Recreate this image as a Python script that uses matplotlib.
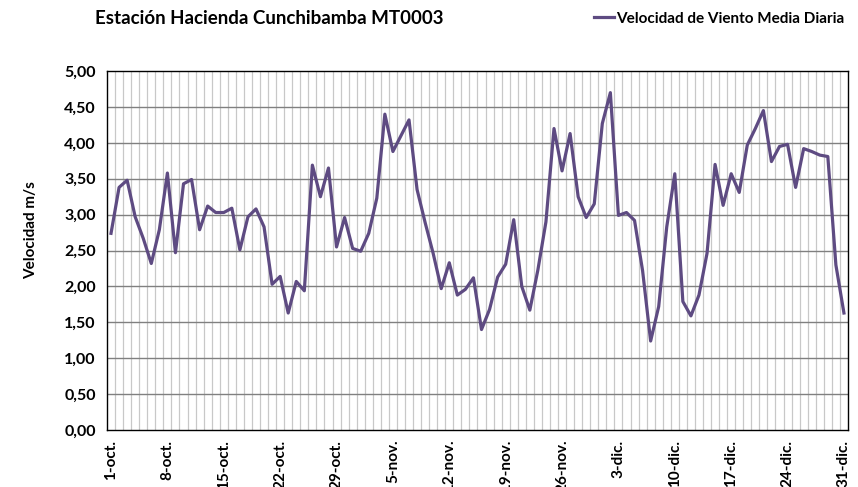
import matplotlib.pyplot as plt
import numpy as np

plt.rcParams['font.family'] = ['Lato', 'DejaVu Sans']

# velocidad media diaria, 1-oct a 31-dic
velocidad = np.array([
    2.74, 3.38, 3.48, 2.97, 2.67, 2.32, 2.79, 3.58, 2.47, 3.43,
    3.49, 2.79, 3.12, 3.03, 3.03, 3.09, 2.51, 2.97, 3.08, 2.83,
    2.03, 2.14, 1.63, 2.07, 1.94, 3.69, 3.25, 3.65, 2.55, 2.96,
    2.53, 2.49, 2.74, 3.23, 4.40, 3.88, 4.10, 4.32, 3.35, 2.89,
    2.46, 1.97, 2.33, 1.88, 1.96, 2.12, 1.40, 1.68, 2.13, 2.31,
    2.93, 2.00, 1.67, 2.23, 2.90, 4.20, 3.61, 4.13, 3.25, 2.96,
    3.15, 4.27, 4.70, 2.99, 3.03, 2.92, 2.22, 1.24, 1.72, 2.83,
    3.57, 1.79, 1.59, 1.88, 2.46, 3.70, 3.13, 3.57, 3.31, 3.97,
    4.20, 4.45, 3.74, 3.95, 3.98, 3.38, 3.92, 3.88, 3.83, 3.81,
    2.30, 1.63,
])
etiquetas = ['1-oct.', '8-oct.', '15-oct.', '22-oct.', '29-oct.', '5-nov.',
             '12-nov.', '19-nov.', '26-nov.', '3-dic.', '10-dic.', '17-dic.',
             '24-dic.', '31-dic.']

dias = np.arange(len(velocidad))

fig = plt.figure(figsize=(8.58, 4.87), dpi=100)
ax = fig.add_axes([0.1247, 0.117, 0.8636, 0.737])

ax.plot(dias, velocidad, color='#5E4B82', lw=2.3,
        label='Velocidad de Viento Media Diaria')

ax.set_xlim(-0.5, len(velocidad) - 0.5)
ax.set_ylim(0, 5)
ax.set_yticks(np.arange(0, 5.01, 0.5))
ax.set_yticklabels([f'{v:.2f}'.replace('.', ',') for v in np.arange(0, 5.01, 0.5)],
                   fontsize=11.5, fontweight='bold')
ax.set_xticks(dias[::7])
ax.set_xticklabels(etiquetas, rotation=90, fontsize=11, fontweight='bold')
ax.tick_params(axis='y', length=0, pad=8)
ax.tick_params(axis='x', length=0, pad=7)

# rejilla: horizontal gris oscuro, vertical por dia gris claro
for v in np.arange(0.5, 5.0, 0.5):
    ax.axhline(v, color='#808080', lw=1.0, zorder=1)
for d in np.arange(0.5, len(velocidad) - 0.5, 1):
    ax.axvline(d, color='#c8c8c8', lw=0.9, zorder=0.5)

for s in ax.spines.values():
    s.set_color('black')
    s.set_linewidth(1.0)

fig.text(0.1107, 0.962, 'Estación Hacienda Cunchibamba MT0003',
         fontsize=13.5, fontweight='bold', va='center', ha='left')
fig.text(0.036, 0.528, 'Velocidad m/s', rotation=90, fontsize=11,
         fontweight='bold', va='center', ha='center')

fig.legend(loc='center right', bbox_to_anchor=(1.0, 0.962), frameon=False,
           handlelength=1.3, handletextpad=0.15,
           prop={'size': 11, 'weight': 'bold'})

fig.savefig('out.png', dpi=100)
